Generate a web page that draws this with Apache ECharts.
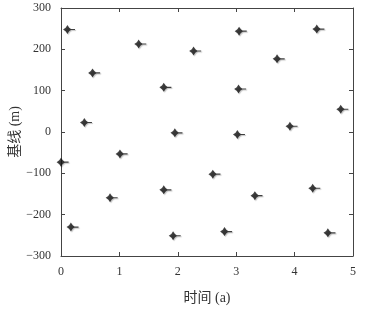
<!DOCTYPE html>
<html><head><meta charset="utf-8">
<script src="https://cdn.jsdelivr.net/npm/echarts@6/dist/echarts.min.js"></script>
<style>html,body{margin:0;padding:0;background:#fff}#c{width:366px;height:311px}</style>
</head><body><div id="c"></div>
<script>
const timeA = [0.11,0.54,0.40,0.00,1.01,0.84,0.17,1.33,1.76,1.95,1.76,1.92,2.27,2.60,3.05,3.04,3.02,3.32,2.80,3.70,3.92,4.38,4.79,4.31,4.57];
const baselineM = [248,143,23,-73,-53,-159,-230,213,108,-2,-140,-251,196,-102,244,104,-6,-154,-241,177,14,249,55,-136,-244];
const xTicks = [0,1,2,3,4,5];
const yTicks = [-300,-200,-100,0,100,200,300];
const xName = '时间 (a)';
const yName = '基线 (m)';

const pts = timeA.map((t,i)=>[t, baselineM[i]]);
const font = '"Liberation Serif", "Noto Sans CJK SC", serif';
const lineC = '#444';
const chart = echarts.init(document.getElementById('c'));
const starPath = 'path://M0,-4 L1.6,-1.6 L4,0 L1.6,1.6 L0,4 L-1.6,1.6 L-4,0 L-1.6,-1.6 Z M3,-0.5 L7,-0.5 L7,0.5 L3,0.5 Z';
const baseAxis = {
  axisLine:{show:true, onZero:false, lineStyle:{color:lineC, width:1}},
  axisTick:{show:true, inside:true, length:4, lineStyle:{color:lineC}},
  splitLine:{show:false}
};
chart.setOption({
  animation:false,
  grid:{left:61, right:13, top:8, bottom:55, containLabel:false, outerBoundsMode:'none'},
  xAxis:[
    Object.assign({type:'value', min:0, max:5, interval:1, position:'bottom',
      name:xName, nameLocation:'middle', nameGap:35,
      nameTextStyle:{fontFamily:font, fontSize:14, color:'#333'},
      axisLabel:{fontFamily:font, fontSize:12, color:'#333', margin:10,
        formatter:v=>xTicks.includes(v)?String(v):''}}, baseAxis),
    Object.assign({type:'value', min:0, max:5, interval:1, position:'top', axisLabel:{show:false}}, baseAxis)
  ],
  yAxis:[
    Object.assign({type:'value', min:-300, max:300, interval:100, position:'left',
      name:yName, nameLocation:'middle', nameGap:46, nameMoveOverlap:false,
      nameTextStyle:{fontFamily:font, fontSize:14, color:'#333', verticalAlign:'middle'},
      axisLabel:{fontFamily:font, fontSize:12, color:'#333', margin:10,
        formatter:v=>yTicks.includes(v)?(v<0?'\u2212'+Math.abs(v):String(v)):''}}, baseAxis),
    Object.assign({type:'value', min:-300, max:300, interval:100, position:'right', axisLabel:{show:false}}, baseAxis)
  ],
  series:[{
    type:'scatter', data:pts, xAxisIndex:0, yAxisIndex:0,
    symbol:starPath, symbolSize:[12,9], symbolOffset:[1.6,0],
    itemStyle:{color:'#111', shadowColor:'rgba(0,0,0,0.3)', shadowBlur:1, shadowOffsetX:1, shadowOffsetY:1},
    clip:false
  }]
});
</script></body></html>
